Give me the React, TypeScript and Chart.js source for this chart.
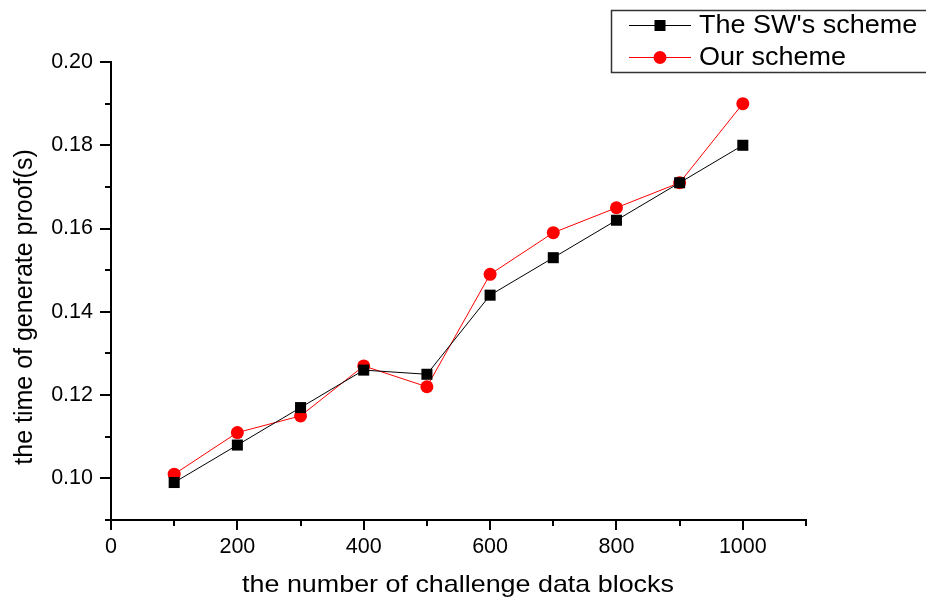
import React, { useEffect, useRef } from 'react';
import { Chart, registerables } from 'chart.js';

Chart.register(...registerables);

const blocks = [100, 200, 300, 400, 500, 600, 700, 800, 900, 1000];
const swScheme = [0.099, 0.108, 0.117, 0.126, 0.125, 0.144, 0.153, 0.162, 0.171, 0.18];
const ourScheme = [0.101, 0.111, 0.115, 0.127, 0.122, 0.149, 0.159, 0.165, 0.171, 0.19];
const seriesNames = ["The SW's scheme", 'Our scheme'];
const xTitle = 'the number of challenge data blocks';
const yTitle = 'the time of generate proof(s)';
const xMin = 0;
const xMax = 1100;
const xStep = 100;
const yMin = 0.09;
const yMax = 0.2;
const yStep = 0.01;

const FONT = '"Liberation Sans", Arial, sans-serif';

const decorPlugin = {
  id: 'decor',
  afterDraw(chart: any) {
    const ctx = chart.ctx;
    const xs = chart.scales.x;
    const ys = chart.scales.y;
    const area = chart.chartArea;
    ctx.save();
    ctx.strokeStyle = '#000';
    ctx.lineWidth = 2;
    xs.ticks.forEach((t: any) => {
      const v = t.value;
      const major = Math.round(v / 100) % 2 === 0;
      const px = Math.round(xs.getPixelForValue(v));
      ctx.beginPath();
      ctx.moveTo(px, area.bottom);
      ctx.lineTo(px, area.bottom + (major ? 10 : 6));
      ctx.stroke();
    });
    ys.ticks.forEach((t: any) => {
      const v = t.value;
      const major = Math.round(v * 100) % 2 === 0;
      const py = Math.round(ys.getPixelForValue(v));
      ctx.beginPath();
      ctx.moveTo(area.left, py);
      ctx.lineTo(area.left - (major ? 11 : 6), py);
      ctx.stroke();
    });

    ctx.fillStyle = '#000';
    ctx.font = `24px ${FONT}`;
    ctx.textAlign = 'center';
    ctx.textBaseline = 'alphabetic';
    ctx.save();
    ctx.translate(458, 592);
    ctx.scale(1.12, 1);
    ctx.fillText(xTitle, 0, 0);
    ctx.restore();

    ctx.save();
    ctx.translate(32, 307);
    ctx.rotate(-Math.PI / 2);
    ctx.font = `25px ${FONT}`;
    ctx.fillText(yTitle, 0, 0);
    ctx.restore();

    ctx.lineWidth = 1.5;
    ctx.strokeStyle = '#333';
    ctx.strokeRect(611.5, 10.5, 330, 62);
    const rows = [
      { y: 25, color: '#000', style: 'rect', name: seriesNames[0] },
      { y: 57, color: '#ff0000', style: 'circle', name: seriesNames[1] },
    ];
    rows.forEach((r) => {
      ctx.strokeStyle = r.color;
      ctx.lineWidth = 1;
      ctx.beginPath();
      ctx.moveTo(629, r.y + 0.5);
      ctx.lineTo(691, r.y + 0.5);
      ctx.stroke();
      ctx.fillStyle = r.color;
      if (r.style === 'rect') {
        ctx.fillRect(660 - 5.5, r.y - 5, 11, 11);
      } else {
        ctx.beginPath();
        ctx.arc(660, r.y + 0.5, 6.5, 0, Math.PI * 2);
        ctx.fill();
      }
      ctx.fillStyle = '#000';
      ctx.font = `25px ${FONT}`;
      ctx.textAlign = 'left';
      ctx.textBaseline = 'middle';
      ctx.save();
      ctx.translate(699, r.y + 1);
      ctx.scale(1.08, 1);
      ctx.fillText(r.name, 0, 0);
      ctx.restore();
    });
    ctx.restore();
  },
};

export default function App() {
  const ref = useRef<HTMLCanvasElement | null>(null);
  useEffect(() => {
    if (!ref.current) return;
    const chart = new Chart(ref.current, {
      type: 'line',
      data: {
        datasets: [
          {
            label: seriesNames[0],
            data: blocks.map((b, i) => ({ x: b, y: swScheme[i] })),
            borderColor: '#000',
            backgroundColor: '#000',
            borderWidth: 1,
            pointStyle: 'rect',
            pointRadius: 7.8,
            pointBorderWidth: 0,
          },
          {
            label: seriesNames[1],
            data: blocks.map((b, i) => ({ x: b, y: ourScheme[i] })),
            borderColor: '#ff0000',
            backgroundColor: '#ff0000',
            borderWidth: 1,
            pointStyle: 'circle',
            pointRadius: 6.5,
            pointBorderWidth: 0,
          },
        ],
      },
      options: {
        responsive: false,
        animation: false,
        layout: { padding: { left: 0, top: 62, right: 120, bottom: 0 } },
        plugins: { legend: { display: false }, tooltip: { enabled: false } },
        scales: {
          x: {
            type: 'linear',
            min: xMin,
            max: xMax,
            grid: { display: false, drawTicks: false },
            border: { display: true, color: '#000', width: 2 },
            ticks: {
              stepSize: xStep,
              autoSkip: false,
              maxRotation: 0,
              padding: 14,
              color: '#000',
              font: { family: FONT, size: 21.5 },
              callback: (v: any) => (Math.round(v) % 200 === 0 ? String(Math.round(v)) : ''),
            },
            afterFit: (s: any) => {
              s.height = 79;
            },
          },
          y: {
            type: 'linear',
            min: yMin,
            max: yMax,
            grid: { display: false, drawTicks: false },
            border: { display: true, color: '#000', width: 2 },
            ticks: {
              stepSize: yStep,
              autoSkip: false,
              padding: 18,
              color: '#000',
              font: { family: FONT, size: 21.5 },
              callback: (v: any) => (Math.round(v * 100) % 2 === 0 ? Number(v).toFixed(2) : ''),
            },
            afterFit: (s: any) => {
              s.width = 111;
            },
          },
        },
      },
      plugins: [decorPlugin],
    });
    return () => chart.destroy();
  }, []);
  return (
    <div style={{ position: 'fixed', left: 0, top: 0, width: 926, height: 599, background: '#fff' }}>
      <canvas ref={ref} width={926} height={599} />
    </div>
  );
}
